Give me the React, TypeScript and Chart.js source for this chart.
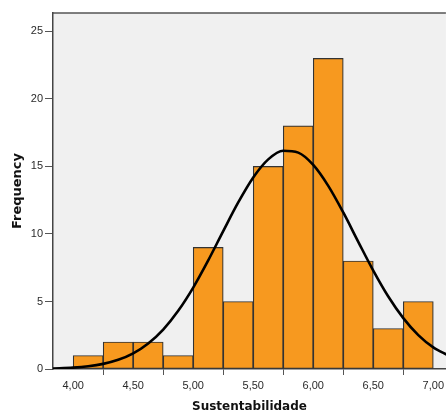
import React, { useEffect, useRef } from "react";
import { Chart, registerables } from "chart.js";

Chart.register(...registerables);

const binCenters = [4.125, 4.375, 4.625, 4.875, 5.125, 5.375, 5.625, 5.875, 6.125, 6.375, 6.625, 6.875];
const frequencies = [1, 2, 2, 1, 9, 5, 15, 18, 23, 8, 3, 5];
const xTicks = [4.0, 4.5, 5.0, 5.5, 6.0, 6.5, 7.0];
const yTicks = [0, 5, 10, 15, 20, 25];
const curveX = [3.83, 4.0, 4.125, 4.25, 4.375, 4.5, 4.625, 4.75, 4.875, 5.0, 5.125, 5.25, 5.375, 5.5, 5.625, 5.75, 5.875, 6.0, 6.125, 6.25, 6.375, 6.5, 6.625, 6.75, 6.875, 7.0, 7.125];
const curveY = [0.04, 0.1, 0.2, 0.38, 0.68, 1.16, 1.89, 2.92, 4.31, 6.03, 8.04, 10.21, 12.33, 14.18, 15.52, 16.16, 16.02, 15.11, 13.56, 11.59, 9.42, 7.29, 5.37, 3.77, 2.51, 1.6, 1.0];

const xTitle = "Sustentabilidade";
const yTitle = "Frequency";

const framePlugin = {
  id: "frame",
  beforeDraw(chart: any) {
    const { ctx, chartArea } = chart;
    ctx.save();
    ctx.fillStyle = "#f0f0f0";
    ctx.fillRect(chartArea.left, chartArea.top, chartArea.right - chartArea.left, chartArea.bottom - chartArea.top);
    ctx.strokeStyle = "#555555";
    ctx.lineWidth = 1.5;
    ctx.beginPath();
    ctx.moveTo(chartArea.left, chartArea.top);
    ctx.lineTo(chartArea.right, chartArea.top);
    ctx.stroke();
    ctx.restore();
  },
};

export default function App() {
  const ref = useRef<HTMLCanvasElement>(null);
  useEffect(() => {
    if (!ref.current) return;
    const chart = new Chart(ref.current, {
      type: "bar",
      data: {
        datasets: [
          {
            type: "line",
            data: curveX.map((x, i) => ({ x, y: curveY[i] })),
            borderColor: "#000000",
            borderWidth: 2.6,
            pointRadius: 0,
            cubicInterpolationMode: "monotone",
            fill: false,
            order: 0,
          } as any,
          {
            type: "bar",
            data: binCenters.map((x, i) => ({ x, y: frequencies[i] })),
            backgroundColor: "#f7991f",
            borderColor: "#333333",
            borderWidth: 1.2,
            borderSkipped: false,
            barPercentage: 1,
            categoryPercentage: 1,
            order: 1,
          } as any,
        ],
      },
      options: {
        animation: false,
        responsive: false,
        maintainAspectRatio: false,
        layout: { padding: { top: 13, left: 0, right: 0, bottom: 0 } },
        plugins: { legend: { display: false }, tooltip: { enabled: false } },
        scales: {
          x: {
            type: "linear",
            min: 3.832,
            max: 7.105,
            offset: false,
            afterBuildTicks: (s: any) => {
              s.ticks = xTicks.map((v) => ({ value: v }));
            },
            afterFit: (s: any) => {
              s.height = 45;
            },
            ticks: {
              color: "#2a2a2a",
              font: { family: "Liberation Sans", size: 11 },
              padding: 4,
              maxRotation: 0,
              autoSkip: false,
              callback: (v: any) => Number(v).toFixed(2).replace(".", ","),
            },
            grid: { drawOnChartArea: false, drawTicks: true, tickLength: 6, tickColor: "#555555" },
            border: { display: true, color: "#444444", width: 1.5 },
            title: {
              display: true,
              text: xTitle,
              color: "#111111",
              font: { family: "DejaVu Sans", size: 12, weight: "bold" },
              padding: { top: 0, bottom: 0 },
            },
          },
          y: {
            type: "linear",
            min: 0,
            max: 26.36,
            afterBuildTicks: (s: any) => {
              s.ticks = yTicks.map((v) => ({ value: v }));
            },
            afterFit: (s: any) => {
              s.width = 53;
            },
            ticks: {
              color: "#2a2a2a",
              font: { family: "Liberation Sans", size: 11 },
              padding: 2,
            },
            grid: { drawOnChartArea: false, drawTicks: true, tickLength: 8, tickColor: "#555555" },
            border: { display: true, color: "#444444", width: 1.5 },
            title: {
              display: true,
              text: yTitle,
              color: "#111111",
              font: { family: "DejaVu Sans", size: 13, weight: "bold" },
              padding: { top: 10, bottom: 0 },
            },
          },
        },
      },
      plugins: [framePlugin],
    } as any);
    return () => chart.destroy();
  }, []);
  return (
    <div style={{ position: "fixed", left: 0, top: 0, width: 448, height: 414, background: "#ffffff" }}>
      <canvas ref={ref} width={448} height={414} style={{ width: 448, height: 414, display: "block" }} />
    </div>
  );
}
